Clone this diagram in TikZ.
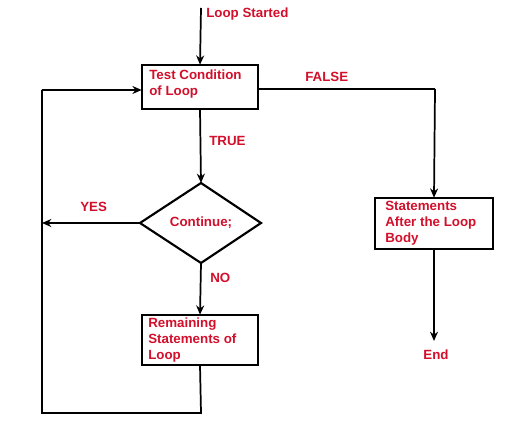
\documentclass[tikz,border=0pt]{standalone}
\usepackage{fontspec}
\setmainfont{Liberation Sans}
\usetikzlibrary{shapes.geometric,arrows.meta}
\definecolor{lbl}{HTML}{D2102C}
\tikzset{
  px/.style={x=0.75pt,y=-0.75pt},
  lab/.style={text=lbl,font=\bfseries\fontsize{10}{12}\selectfont,inner sep=0pt},
  boxnode/.style={draw=black,line width=2pt,minimum width=116*0.75pt,anchor=north west,inner sep=0pt},
  conn/.style={draw=black,line width=1.3pt,-{Stealth[length=7pt,width=6pt]}},
  line/.style={draw=black,line width=1.3pt}
}
\begin{document}
\begin{tikzpicture}[px]
\useasboundingbox[fill=white] (0,0) rectangle (516,423);
% boxes
\draw[line width=2pt] (142,65) rectangle (258,109);
\node (b1) [minimum width=116*0.75pt,minimum height=44*0.75pt,inner sep=0pt] at (200,87) {};
\node[lab,anchor=north west,align=left] (t1) at (149,70) {Test Condition\\of Loop};
\draw[line width=2pt] (142,315) rectangle (258,365);
\node (b2) [minimum width=116*0.75pt,minimum height=50*0.75pt,inner sep=0pt] at (200,340) {};
\node[lab,anchor=north west,align=left] (t2) at (148,318) {Remaining\\Statements of\\Loop};
\draw[line width=2pt] (375,198) rectangle (493,249);
\node (b3) [minimum width=118*0.75pt,minimum height=51*0.75pt,inner sep=0pt] at (434,223.5) {};
\node[lab,anchor=north west,align=left] (t3) at (385,201) {Statements\\After the Loop\\Body};
% diamond
\draw[line width=1.6pt] (201,183) -- (261,223) -- (201,263) -- (140,223) -- cycle;
\coordinate (dt) at (201,183);
\coordinate (db) at (201,263);
\coordinate (dl) at (140,223);
\node[lab] (cont) at (201,223) {Continue;};
% coordinates
\coordinate (start) at (201,8);
\coordinate (yesend) at (42,223);
\coordinate (ll) at (42,413);
\coordinate (lt) at (42,90);
\coordinate (b2bot) at (201,413);
\coordinate (fr) at (435,89);
\coordinate (endp) at (434,341);
% connectors
\draw[conn] (start) -- (b1.north);
\draw[conn] (b1.south) -- (dt);
\draw[conn] (dl) -- (yesend);
\draw[conn] (db) -- (b2.north);
\draw[line] (b2.south) -- (b2bot) -- (ll) -- (lt);
\draw[conn] (lt) -- (b1.west |- lt);
\draw[line] (b1.east |- fr) -- (fr);
\draw[conn] (fr) -- (b3.north);
\draw[conn] (b3.south) -- (endp);
% labels
\node[lab,anchor=west] (ls) at (206,14) {Loop Started};
\node[lab,anchor=west] (fl) at (305,77) {FALSE};
\node[lab,anchor=west] (tr) at (209,141) {TRUE};
\node[lab,anchor=west] (ys) at (80,207) {YES};
\node[lab,anchor=west] (no) at (210,278) {NO};
\node[lab] (en) at (436,355) {End};
\end{tikzpicture}
\end{document}
